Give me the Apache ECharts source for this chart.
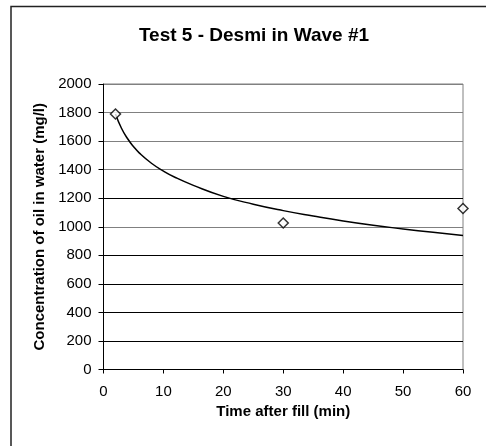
<!DOCTYPE html>
<html>
<head>
<meta charset="utf-8">
<script src="https://cdn.jsdelivr.net/npm/echarts@6/dist/echarts.min.js"></script>
<style>
html,body{margin:0;padding:0;background:#fff;}
#chart{width:486px;height:446px;}
</style>
</head>
<body>
<div id="chart"></div>
<script>
// Measured points
const measuredTime = [2, 30, 60];
const measuredConc = [1790, 1026, 1128];
// Trend curve
const trendTime = [2, 3, 4, 5, 6, 8, 10, 12, 15, 20, 25, 30, 35, 40, 45, 50, 55, 60];
const trendConc = [1790, 1690, 1618, 1562, 1516, 1445, 1390, 1345, 1290, 1213, 1158, 1113, 1075, 1040, 1010, 985, 961, 939];
const xTicks = [0, 10, 20, 30, 40, 50, 60];
const yTicks = [0, 200, 400, 600, 800, 1000, 1200, 1400, 1600, 1800, 2000];

const FONT = '"Liberation Sans", Arial, sans-serif';
const chart = echarts.init(document.getElementById('chart'), null, {renderer: 'canvas'});

chart.setOption({
  animation: false,
  backgroundColor: '#ffffff',
  title: {
    text: 'Test 5 - Desmi in Wave #1',
    left: 249,
    top: 21,
    textAlign: 'center',
    textStyle: {fontFamily: FONT, fontWeight: 'bold', fontSize: 19, color: '#000'}
  },
  graphic: [{
    type: 'rect',
    shape: {x: 11, y: 6.5, width: 520, height: 480},
    style: {fill: null, stroke: '#222', lineWidth: 1.5},
    silent: true
  }],
  grid: {left: 103.5, top: 84, width: 359.5, height: 285.5, show: true, borderColor: '#808080', borderWidth: 1, backgroundColor: 'transparent'},
  xAxis: {
    type: 'value',
    min: xTicks[0],
    max: xTicks[xTicks.length - 1],
    interval: 10,
    name: 'Time after fill (min)',
    nameLocation: 'middle',
    nameGap: 33,
    nameTextStyle: {fontFamily: FONT, fontWeight: 'bold', fontSize: 15, color: '#000'},
    axisLine: {onZero: false, lineStyle: {color: '#000', width: 1}},
    axisTick: {show: true, length: 4, inside: false, lineStyle: {color: '#000'}},
    axisLabel: {fontFamily: FONT, fontSize: 15, color: '#000', margin: 15, formatter: v => String(v)},
    splitLine: {show: false}
  },
  yAxis: {
    type: 'value',
    min: yTicks[0],
    max: yTicks[yTicks.length - 1],
    interval: 200,
    name: 'Concentration of oil in water (mg/l)',
    nameLocation: 'middle',
    nameGap: 56,
    nameRotate: 90,
    nameTextStyle: {fontFamily: FONT, fontWeight: 'bold', fontSize: 15, color: '#000'},
    axisLine: {show: true, lineStyle: {color: '#000', width: 1}},
    axisTick: {show: true, length: 5, inside: false, lineStyle: {color: '#000'}},
    axisLabel: {fontFamily: FONT, fontSize: 15, color: '#000', margin: 12, formatter: v => String(v)},
    splitLine: {show: true, lineStyle: {width: 1, color: ['#000', '#000', '#000', '#000', '#000', '#808080', '#000', '#808080', '#808080', '#808080', '#808080']}}
  },
  series: [
    {
      type: 'line',
      data: trendTime.map((t, i) => [t, trendConc[i]]),
      smooth: true,
      showSymbol: false,
      symbol: 'none',
      lineStyle: {color: '#000', width: 1.5},
      z: 2
    },
    {
      type: 'scatter',
      data: measuredTime.map((t, i) => [t, measuredConc[i]]),
      symbol: 'diamond',
      symbolSize: [10, 10],
      itemStyle: {color: '#fff', borderColor: '#000', borderWidth: 1.5},
      z: 3
    }
  ]
});
</script>
</body>
</html>
